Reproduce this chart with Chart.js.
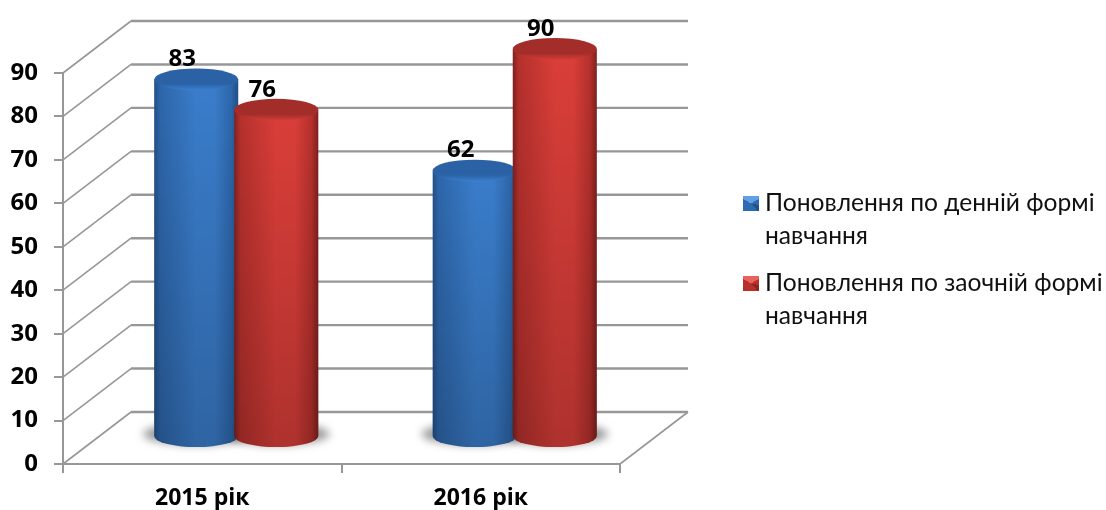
<!DOCTYPE html>
<html>
<head>
<meta charset="utf-8">
<script src="https://cdn.jsdelivr.net/npm/chart.js@4"></script>
<style>
    html, body { margin: 0; padding: 0; background: #fff; }
    #wrap { position: relative; width: 1106px; height: 510px; overflow: hidden; }
    #chart-legend { position: absolute; left: 743px; top: 185px; width: 363px; font: 24.6px Lato, "Open Sans", sans-serif; color: #111; }
    #chart-legend ul { margin: 0; padding: 0; list-style: none; }
    #chart-legend li { position: relative; padding-left: 22px; line-height: 33px; margin-bottom: 14px; white-space: pre-line; }
    #chart-legend span { position: absolute; left: 0; top: 11px; width: 16px; height: 15px; }
</style>
</head>
<body>
<div id="wrap">
    <canvas id="chart"></canvas>
    <div id="chart-legend"></div>
</div>
<script>
const categories = ["2015 рік", "2016 рік"];
const seriesNames = ["Поновлення по денній формі\nнавчання", "Поновлення по заочній формі\nнавчання"];
const dayValues = [83, 62];
const extramuralValues = [76, 90];
const yTicks = [0, 10, 20, 30, 40, 50, 60, 70, 80, 90];

const GRID = "#979797";
const FONT = "'Open Sans', Lato, sans-serif";
// depth of the fake 3D box
const DEPTH_X = 68, DEPTH_Y = 52;

const palette = [
    { edge: "#234f86", side: "#2d66aa", mid: "#3a7dcb", lid: "#2a62a5", rim: "#3c80cf",
      swatch: ["#62a0e6", "#2e6ab0", "#245288"] },
    { edge: "#7e211e", side: "#b5302c", mid: "#da3e39", lid: "#a32d29", rim: "#d73d38",
      swatch: ["#ea625c", "#b8302c", "#8a2522"] },
];

const box3d = {
    id: "box3d",
    beforeDatasetsDraw(chart) {
        const { ctx, chartArea: a, scales: { y } } = chart;
        ctx.save();
        ctx.strokeStyle = GRID;
        yTicks.forEach((t) => {
            const py = y.getPixelForValue(t);
            ctx.lineWidth = 1.6;
            ctx.beginPath();
            ctx.moveTo(a.left, py);
            ctx.lineTo(a.left + DEPTH_X, py - DEPTH_Y);
            ctx.stroke();
            ctx.lineWidth = 2.4;
            ctx.beginPath();
            ctx.moveTo(a.left + DEPTH_X, py - DEPTH_Y);
            ctx.lineTo(a.right + DEPTH_X, py - DEPTH_Y);
            ctx.stroke();
            if (t === 0) {
                ctx.lineWidth = 1.6;
                ctx.beginPath();
                ctx.moveTo(a.right + DEPTH_X, py - DEPTH_Y);
                ctx.lineTo(a.right, py);
                ctx.stroke();
            }
        });
        ctx.restore();
    },
};

const cylinders = {
    id: "cylinders",
    afterDatasetsDraw(chart) {
        const { ctx } = chart;
        const bars = [];
        chart.data.datasets.forEach((ds, i) => {
            chart.getDatasetMeta(i).data.forEach((el, j) => bars.push({ el, i, value: ds.data[j] }));
        });
        // floor shadows go under every cylinder
        bars.forEach(({ el }) => {
            ctx.save();
            ctx.filter = "blur(4px)";
            ctx.fillStyle = "rgba(70,70,70,.55)";
            ctx.beginPath();
            ctx.ellipse(el.x + DEPTH_X / 2, el.base - 29, el.width / 2 + 13, 11, 0, 0, Math.PI * 2);
            ctx.fill();
            ctx.restore();
        });
        bars.sort((a, b) => a.i - b.i).forEach(({ el, i }) => drawCylinder(ctx, el, palette[i]));
        bars.forEach(({ el, value }) => {
            ctx.save();
            ctx.font = "bold 24px " + FONT;
            ctx.fillStyle = "#000";
            ctx.textAlign = "center";
            ctx.textBaseline = "middle";
            ctx.fillText(value, el.x + DEPTH_X / 2 - 14, el.y - 24 - 11 - 9);
            ctx.restore();
        });
    },
};

function drawCylinder(ctx, el, c) {
    const cx = el.x + DEPTH_X / 2;
    const rx = el.width / 2 + 2;
    const ry = 11;
    const top = el.y - 24;
    const bottom = el.base - 27;
    const left = cx - rx, right = cx + rx;

    ctx.save();
    ctx.beginPath();
    ctx.moveTo(left, top);
    ctx.lineTo(left, bottom);
    ctx.ellipse(cx, bottom, rx, ry, 0, Math.PI, 0, true);
    ctx.lineTo(right, top);
    ctx.closePath();
    const body = ctx.createLinearGradient(left, 0, right, 0);
    body.addColorStop(0, c.edge);
    body.addColorStop(0.07, c.side);
    body.addColorStop(0.5, c.mid);
    body.addColorStop(0.72, c.mid);
    body.addColorStop(0.92, c.side);
    body.addColorStop(1, c.edge);
    ctx.fillStyle = body;
    ctx.fill();
    // darker towards the floor
    const fade = ctx.createLinearGradient(0, top, 0, bottom + ry);
    fade.addColorStop(0, "rgba(0,0,0,0)");
    fade.addColorStop(1, "rgba(0,0,0,.2)");
    ctx.fillStyle = fade;
    ctx.fill();

    // lid
    ctx.beginPath();
    ctx.ellipse(cx, top, rx, ry, 0, 0, Math.PI * 2);
    const rim = ctx.createLinearGradient(0, top - ry, 0, top + ry);
    rim.addColorStop(0, c.lid);
    rim.addColorStop(0.7, c.lid);
    rim.addColorStop(1, c.rim);
    ctx.fillStyle = rim;
    ctx.fill();
    ctx.restore();
}

const htmlLegend = {
    id: "htmlLegend",
    afterUpdate(chart) {
        const box = document.getElementById("chart-legend");
        box.innerHTML = "";
        const ul = document.createElement("ul");
        chart.data.datasets.forEach((ds, i) => {
            const s = palette[i].swatch;
            const li = document.createElement("li");
            const mark = document.createElement("span");
            mark.style.background = `conic-gradient(from -60deg, ${s[0]} 0 33%, ${s[1]} 33% 45%, ${s[2]} 45% 55%, ${s[1]} 55%)`;
            li.appendChild(mark);
            li.appendChild(document.createTextNode(ds.label));
            ul.appendChild(li);
        });
        box.appendChild(ul);
    },
};

new Chart(document.getElementById("chart").getContext("2d"), {
    type: "bar",
    data: {
        labels: categories,
        datasets: [
            { label: seriesNames[0], data: dayValues, backgroundColor: "rgba(0,0,0,0)" },
            { label: seriesNames[1], data: extramuralValues, backgroundColor: "rgba(0,0,0,0)" },
        ],
    },
    options: {
        responsive: true,
        maintainAspectRatio: false,
        animation: false,
        categoryPercentage: 0.575,
        barPercentage: 1,
        layout: { padding: { top: 73, right: 486, left: 0, bottom: 0 } },
        plugins: { legend: { display: false }, tooltip: { enabled: false } },
        scales: {
            x: {
                afterFit: (s) => { s.height = 46; },
                border: { color: GRID, width: 2 },
                grid: { drawOnChartArea: false, color: GRID, lineWidth: 2, tickLength: 9 },
                ticks: { color: "#000", padding: 12, font: { family: FONT, size: 23, weight: "bold" } },
            },
            y: {
                min: 0,
                max: 90,
                afterFit: (s) => { s.width = 63; },
                border: { color: GRID, width: 2 },
                grid: { drawOnChartArea: false, color: GRID, lineWidth: 2, tickLength: 9 },
                ticks: { stepSize: 10, color: "#000", padding: 16, font: { family: FONT, size: 24, weight: "bold" } },
            },
        },
    },
    plugins: [box3d, cylinders, htmlLegend],
});
</script>
</body>
</html>
